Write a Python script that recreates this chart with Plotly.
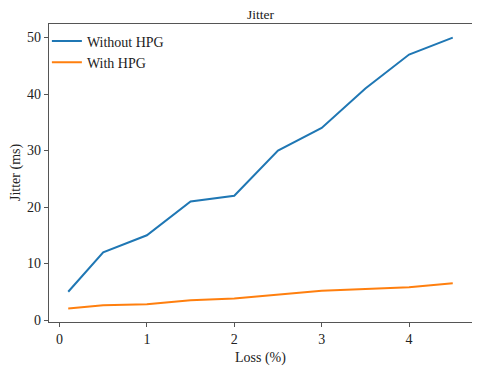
import plotly.graph_objects as go

# data
loss = [0.1, 0.5, 1, 1.5, 2, 2.5, 3, 3.5, 4, 4.5]
without_hpg = [5, 12, 15, 21, 22, 30, 34, 41, 47, 50]
with_hpg = [2.05, 2.6, 2.8, 3.5, 3.8, 4.5, 5.2, 5.5, 5.8, 6.5]

fig = go.Figure()
fig.add_trace(go.Scatter(x=loss, y=without_hpg, mode='lines', name='Without HPG',
                         line=dict(color='#1f77b4', width=2)))
fig.add_trace(go.Scatter(x=loss, y=with_hpg, mode='lines', name='With HPG',
                         line=dict(color='#ff7f0e', width=2)))

font = 'Liberation Serif, Times New Roman, serif'
axis_style = dict(showline=True, linecolor='#555', linewidth=1.3, mirror=True,
                  ticks='outside', ticklen=4, tickcolor='#555', showgrid=False,
                  zeroline=False, tickfont=dict(size=14), automargin=False)

# the page body adds 8px on the left and top, so the figure is a bit smaller
fig.update_layout(
    width=472, height=362,
    margin=dict(l=41, r=8, t=16, b=48),
    paper_bgcolor='white', plot_bgcolor='white',
    font=dict(family=font, size=14, color='#222'),
    legend=dict(x=-0.005, y=0.995, xanchor='left', yanchor='top',
                bgcolor='rgba(255,255,255,0)', font=dict(size=14),
                tracegroupgap=0),
    xaxis=dict(range=[-0.12, 4.72], tickvals=[0, 1, 2, 3, 4], **axis_style),
    yaxis=dict(range=[-0.35, 52.4], tickvals=[0, 10, 20, 30, 40, 50], **axis_style),
)

fig.add_annotation(text='Jitter', xref='paper', yref='paper', x=0.5, y=1,
                   xanchor='center', yanchor='top', yshift=19,
                   showarrow=False, font=dict(size=13.5))
fig.add_annotation(text='Loss (%)', xref='paper', yref='paper', x=0.5, y=0,
                   xanchor='center', yanchor='top', yshift=-26,
                   showarrow=False, font=dict(size=14))
fig.add_annotation(text='Jitter (ms)', xref='paper', yref='paper', x=0, y=0.5,
                   xanchor='right', yanchor='middle', xshift=-23, textangle=-90,
                   showarrow=False, font=dict(size=14))

fig.write_html("out.html")
